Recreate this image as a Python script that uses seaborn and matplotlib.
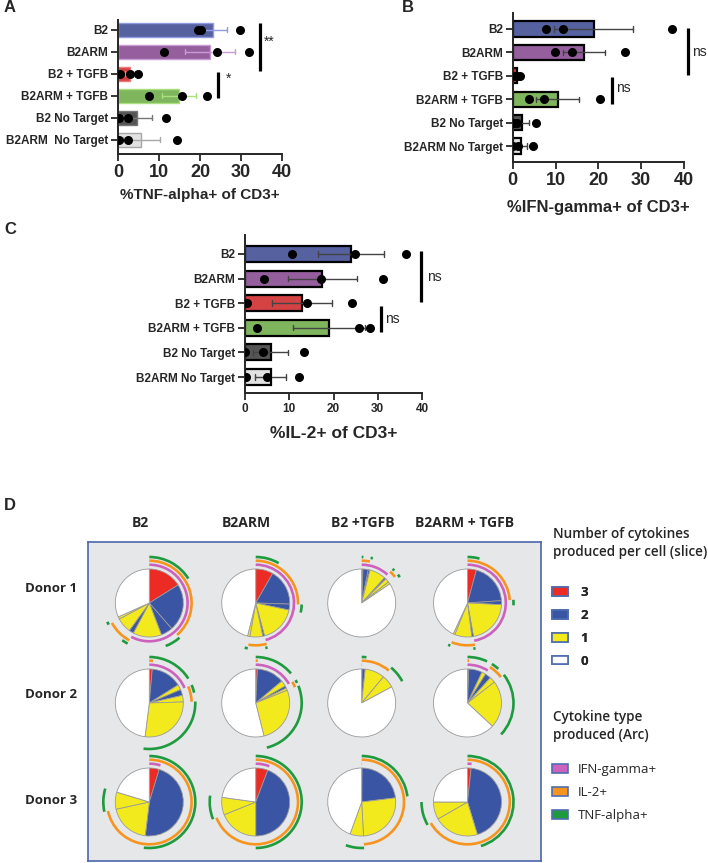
import matplotlib
matplotlib.use("Agg")
import matplotlib.pyplot as plt
import numpy as np
import pandas as pd
import seaborn as sns
from matplotlib.patches import Arc, Patch

W, H = 708, 863

# ---- panels A-C: % positive of CD3+, one value per donor ----
CONDITIONS = ["B2", "B2ARM", "B2 + TGFB", "B2ARM + TGFB", "B2 No Target", "B2ARM No Target"]
CONDITION_LABELS_A = ["B2", "B2ARM", "B2 + TGFB", "B2ARM + TGFB", "B2 No Target", "B2ARM  No Target"]
BAR_COLORS = ["#4A58AC", "#9B55A6", "#EC2A2C", "#7CC44E", "#555555", "#E2E2E2"]
BAR_EDGES_A = ["#8F9BE0", "#C99BD6", "#F27A7A", "#A9E07E", "#777777", "#A8A8A8"]

tnf_values = [[20.2, 19.4, 29.8], [11.3, 24.2, 31.9], [0.6, 3.0, 4.9],
              [7.5, 15.5, 21.8], [0.2, 2.4, 11.6], [0.2, 2.4, 14.5]]
ifn_values = [[7.8, 11.8, 37.2], [9.9, 13.8, 26.3], [0.5, 1.0, 1.7],
              [3.9, 7.2, 20.4], [0.3, 1.0, 5.4], [0.1, 1.2, 4.8]]
il2_values = [[10.7, 24.9, 36.3], [4.2, 17.1, 31.1], [0.4, 14.1, 24.1],
              [2.8, 25.8, 28.3], [0.0, 4.1, 13.4], [0.2, 4.9, 12.3]]
X_TICKS = [0, 10, 20, 30, 40]

# ---- panel D: SPICE pies, slices in fixed order (percent of cells) ----
# G = IFN-gamma, I = IL-2, T = TNF-alpha
SUBSETS = ["GIT", "GI", "GT", "G", "IT", "I", "T", "none"]
PIE_CONDITIONS = ["B2", "B2ARM", "B2 +TGFB", "B2ARM + TGFB"]
DONORS = ["Donor 1", "Donor 2", "Donor 3"]
donor1_pies = [[16.1, 22.5, 5.6, 13.6, 2.2, 7.2, 1.1, 31.7],
               [8.3, 17.2, 2.8, 17.5, 0.8, 6.1, 1.1, 46.1],
               [0.6, 2.5, 0.8, 7.8, 0.8, 1.9, 1.1, 84.4],
               [4.2, 19.7, 1.9, 21.4, 0.8, 8.1, 0.8, 43.1]]
donor2_pies = [[1.4, 0.0, 14.7, 2.5, 2.8, 3.1, 27.5, 48.0],
               [0.8, 0.0, 13.1, 2.8, 1.1, 1.1, 27.2, 53.9],
               [0.14, 0.0, 0.0, 0.0, 1.5, 9.4, 6.1, 82.8],
               [0.6, 0.0, 6.4, 1.9, 2.8, 2.8, 22.5, 63.1]]
donor3_pies = [[4.7, 0.0, 0.0, 0.0, 47.2, 19.7, 8.1, 20.3],
               [5.8, 0.0, 0.0, 0.0, 44.2, 18.9, 8.3, 22.8],
               [0.14, 0.0, 0.0, 0.0, 22.9, 26.1, 6.4, 44.4],
               [1.7, 0.0, 0.0, 0.0, 43.6, 21.4, 8.3, 25.0]]
SLICE_COLORS = {3: "#EC2B25", 2: "#3B55A5", 1: "#F3EA1E", 0: "#FFFFFF"}
COUNT_LABELS = ["3", "2", "1", "0"]
CYTOKINES = ["G", "I", "T"]
CYTOKINE_LABELS = ["IFN-gamma+", "IL-2+", "TNF-alpha+"]
ARC_COLORS = {"G": "#CC62BE", "I": "#F7941D", "T": "#1E9A3F"}
ARC_RADIUS = {"G": 38.3, "I": 42.3, "T": 46.0}


def fx(x):
    return x / W


def fy(y):
    return 1 - y / H


def axes_px(fig, x0, y0, x1, y1):
    return fig.add_axes([fx(x0), fy(y1), (x1 - x0) / W, (y1 - y0) / H])


def bar_panel(ax, values, labels, xlabel, ylim, tick_size, label_size, xlabel_size,
              bar_edges=None, lw=1.6, labelpad=3):
    df = pd.DataFrame({"condition": np.repeat(labels, 3), "value": np.ravel(values)})
    sns.barplot(data=df, x="value", y="condition", hue="condition", order=labels,
                palette=BAR_COLORS, errorbar="se", capsize=0.22, width=0.65,
                err_kws={"linewidth": 1.0, "color": "#444444"}, legend=False,
                edgecolor="black", linewidth=lw, ax=ax)
    if bar_edges is not None:
        for patch, ec in zip(ax.patches, bar_edges):
            patch.set_edgecolor(ec)
        for line in ax.lines:
            idx = int(round(np.nanmean(line.get_ydata())))
            line.set_color(bar_edges[idx])
    sns.stripplot(data=df, x="value", y="condition", order=labels, color="black",
                  size=6.5, jitter=False, ax=ax, zorder=5)
    ax.set_xlim(0, 40)
    ax.set_ylim(*ylim)
    ax.set_xticks(X_TICKS)
    ax.set_xticklabels([str(t) for t in X_TICKS], fontsize=tick_size, fontweight="bold")
    ax.set_yticks(range(len(labels)))
    ax.set_yticklabels(labels, fontsize=label_size, fontweight="bold")
    ax.set_ylabel("")
    ax.set_xlabel(xlabel, fontsize=xlabel_size, fontweight="bold", labelpad=labelpad)
    sns.despine(ax=ax)
    for side in ("left", "bottom"):
        ax.spines[side].set_linewidth(1.4)
    ax.tick_params(width=1.3, length=5, pad=2)


def sig(ax, x, y0, y1, text, tx, ty, size=10):
    ax.plot([x, x], [y0, y1], color="black", lw=2.3, clip_on=False, solid_capstyle="butt")
    ax.text(tx, ty, text, fontsize=size, va="center", ha="left", clip_on=False)


sns.set_style("ticks")
plt.rcParams["font.family"] = ["Liberation Sans", "DejaVu Sans"]

fig = plt.figure(figsize=(W / 100, H / 100), dpi=100)

# panel A
ax_a = axes_px(fig, 118, 20, 282, 154)
bar_panel(ax_a, tnf_values, CONDITION_LABELS_A, "%TNF-alpha+ of CD3+", (5.64, -0.45),
          13, 8.5, 11, bar_edges=BAR_EDGES_A, lw=1.0, labelpad=5)
sig(ax_a, 34.6, -0.3, 1.85, "**", 35.6, 0.55)
sig(ax_a, 24.3, 1.9, 3.1, "*", 26.4, 2.2)

# panel B
ax_b = axes_px(fig, 512.7, 13, 684, 162)
bar_panel(ax_b, ifn_values, CONDITIONS, "%IFN-gamma+ of CD3+", (5.68, -0.68),
          13, 8.5, 12, labelpad=8)
sig(ax_b, 40.9, -0.03, 1.97, "ns", 41.9, 0.97)
sig(ax_b, 23.2, 2.04, 3.2, "ns", 24.2, 2.53)

# panel C
ax_c = axes_px(fig, 245, 235, 422, 393)
bar_panel(ax_c, il2_values, CONDITIONS, "%IL-2+ of CD3+", (5.65, -0.77),
          8.5, 8.5, 12.5, labelpad=8)
sig(ax_c, 39.8, -0.1, 1.94, "ns", 41.2, 0.95)
sig(ax_c, 30.8, 2.12, 3.17, "ns", 31.7, 2.65)

for label, x, y in [("A", 10, 8), ("B", 408, 7), ("C", 10, 229), ("D", 10, 505)]:
    fig.text(fx(x), fy(y), label, fontsize=12, fontweight="bold", ha="center", va="center")

# panel D
d_font = ["Open Sans", "DejaVu Sans"]
box = (88, 542, 541, 861)
ax_d = axes_px(fig, *box)
ax_d.set_facecolor("#E6E7E8")
col_x = [149.3, 255.7, 361.7, 467.5]
row_y = [603, 703, 802]
pie_r = 34

for r, pies in enumerate([donor1_pies, donor2_pies, donor3_pies]):
    for c, fracs in enumerate(pies):
        cx, cy = col_x[c], H - row_y[r]
        counts = [0 if k == "none" else len(k) for k in SUBSETS]
        keep = [(f, n) for f, n in zip(fracs, counts) if f > 0]
        ax_d.pie([f for f, _ in keep], colors=[SLICE_COLORS[n] for _, n in keep],
                 center=(cx, cy), radius=pie_r, startangle=90, counterclock=False,
                 frame=True, wedgeprops={"edgecolor": "#9A9A9A", "linewidth": 0.6})
        bounds = np.concatenate([[0], np.cumsum(fracs)]) / sum(fracs) * 360
        for cyto in CYTOKINES:
            runs = []
            for k, f, a0, a1 in zip(SUBSETS, fracs, bounds[:-1], bounds[1:]):
                if f <= 0:
                    continue
                if cyto in k:
                    if runs and abs(runs[-1][1] - a0) < 1e-6:
                        runs[-1][1] = a1
                    else:
                        runs.append([a0, a1])
            rad = ARC_RADIUS[cyto]
            for a0, a1 in runs:
                ax_d.add_patch(Arc((cx, cy), 2 * rad, 2 * rad, theta1=90 - a1,
                                   theta2=90 - a0, color=ARC_COLORS[cyto], lw=1.9))

ax_d.set_xlim(box[0], box[2])
ax_d.set_ylim(H - box[3], H - box[1])
ax_d.set_aspect("equal", adjustable="box")
ax_d.set_xticks([])
ax_d.set_yticks([])
for sp in ax_d.spines.values():
    sp.set_visible(True)
    sp.set_edgecolor("#4A66AC")
    sp.set_linewidth(1.2)

for x, name in zip([140, 246, 363, 465], PIE_CONDITIONS):
    fig.text(fx(x), fy(523), name, fontsize=10, fontweight="bold", family=d_font,
             ha="center", va="center")
for y, name in zip([588, 694, 800], DONORS):
    fig.text(fx(51), fy(y), name, fontsize=9.5, fontweight="bold",
             family=d_font, ha="center", va="center")

fig.text(fx(553), fy(543), "Number of cytokines\nproduced per cell (slice)", fontsize=9.8,
         fontweight="semibold", family=d_font, ha="left", va="center", linespacing=1.3)
fig.text(fx(553), fy(726), "Cytokine type\nproduced (Arc)", fontsize=9.8,
         fontweight="semibold", family=d_font, ha="left", va="center", linespacing=1.3)

count_handles = [Patch(facecolor=SLICE_COLORS[int(n)], edgecolor="#4F6DB0", linewidth=1.2)
                 for n in COUNT_LABELS]
leg1 = fig.legend(count_handles, COUNT_LABELS, loc="upper left",
                  bbox_to_anchor=(fx(552), fy(586)), frameon=False, handlelength=1.25,
                  handleheight=0.65, handletextpad=0.9, labelspacing=0.75, borderaxespad=0,
                  borderpad=0, prop={"family": d_font, "size": 9.5, "weight": "bold"})
arc_handles = [Patch(facecolor=ARC_COLORS[c], edgecolor="#4F6DB0", linewidth=1.2)
               for c in CYTOKINES]
fig.legend(arc_handles, CYTOKINE_LABELS, loc="upper left",
           bbox_to_anchor=(fx(552), fy(763)), frameon=False, handlelength=1.25,
           handleheight=0.65, handletextpad=0.7, labelspacing=0.75, borderaxespad=0,
           borderpad=0, prop={"family": d_font, "size": 9.5})
fig.add_artist(leg1)

fig.savefig("out.png", dpi=100)
